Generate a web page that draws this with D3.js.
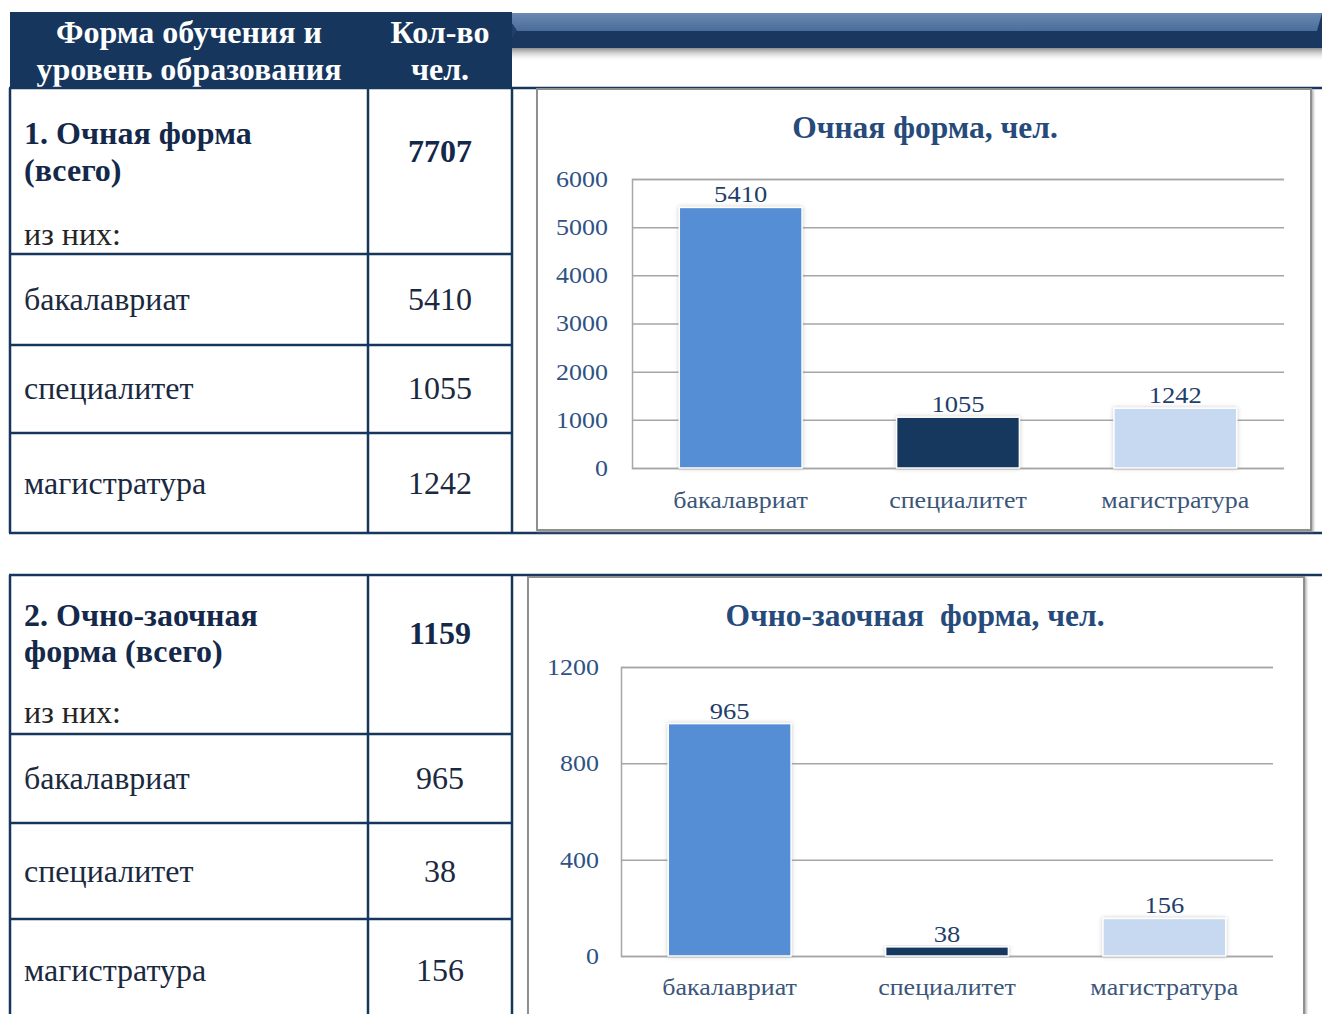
<!DOCTYPE html>
<html><head><meta charset="utf-8">
<script src="https://cdn.jsdelivr.net/npm/d3@7"></script>
<style>html,body{margin:0;padding:0;background:#fff;overflow:hidden}svg{display:block}</style>
</head><body>
<svg id="c" width="1322" height="1014"></svg>
<script>
// ---- data ----
const categories = ["бакалавриат", "специалитет", "магистратура"];
const fullTimeValues = [5410, 1055, 1242];
const partTimeValues = [965, 38, 156];
const fullTimeTotal = 7707;
const partTimeTotal = 1159;
const fullTimeTicks = [0, 1000, 2000, 3000, 4000, 5000, 6000];
const partTimeTicks = [0, 400, 800, 1200];
const headerLeft = ["Форма обучения и", "уровень образования"];
const headerRight = ["Кол-во", "чел."];
const fullTimeHeading = ["1. Очная форма", "(всего)"];
const partTimeHeading = ["2. Очно-заочная", "форма (всего)"];
const ofThem = "из них:";
const fullTimeTitle = "Очная форма, чел.";
const partTimeTitle = "Очно-заочная  форма, чел.";
const barColors = ["#558ed5", "#17375e", "#c6d9f1"];

const svg = d3.select("#c");
const NAVY = "#17365d";
const SERIF = "'Liberation Serif','Times New Roman',serif";
const defs = svg.append("defs");

// horizontal glyph stretch around the text's anchor x
function stretch(sel, k) {
  sel.each(function() {
    const ax = +(this.getAttribute("x") || 0);
    d3.select(this).attr("transform", `translate(${ax},0) scale(${k},1) translate(${-ax},0)`);
  });
}

// gradients
const g1 = defs.append("linearGradient").attr("id","bevel").attr("x1",0).attr("y1",0).attr("x2",0).attr("y2",1);
g1.append("stop").attr("offset","0%").attr("stop-color","#6a89b2");
g1.append("stop").attr("offset","100%").attr("stop-color","#4a6d9a");
const g2 = defs.append("linearGradient").attr("id","shade").attr("x1",0).attr("y1",0).attr("x2",0).attr("y2",1);
g2.append("stop").attr("offset","0%").attr("stop-color","#8e8e8e");
g2.append("stop").attr("offset","100%").attr("stop-color","#ffffff").attr("stop-opacity",0);
const f = defs.append("filter").attr("id","barsh").attr("x","-20%").attr("y","-20%").attr("width","140%").attr("height","140%");
f.append("feDropShadow").attr("dx",0).attr("dy",0).attr("stdDeviation",2.2).attr("flood-color","#888").attr("flood-opacity",0.45);
const f2 = defs.append("filter").attr("id","frsh").attr("x","-5%").attr("y","-5%").attr("width","110%").attr("height","110%");
f2.append("feDropShadow").attr("dx",1.5).attr("dy",1.5).attr("stdDeviation",1).attr("flood-color","#777").attr("flood-opacity",0.6);

// ---- banner top right ----
svg.append("rect").attr("x",505).attr("y",13).attr("width",817).attr("height",35).attr("fill","#19375f");
svg.append("polygon").attr("points","505,13 1322,13 1317,31 517,31").attr("fill","url(#bevel)");
svg.append("polygon").attr("points","505,13 517,31 505,48").attr("fill","#223f68");
svg.append("rect").attr("x",505).attr("y",48).attr("width",817).attr("height",14).attr("fill","url(#shade)");

const FS = 32;
// ---- table ----
function table(rows, bottom, withHeader) {
  const g = svg.append("g");
  if (withHeader) {
    g.append("rect").attr("x",10).attr("y",12).attr("width",502).attr("height",77).attr("fill",NAVY);
    headerLeft.forEach((t,i)=> g.append("text").attr("x",189).attr("y",43+i*37).attr("text-anchor","middle")
      .attr("font-family",SERIF).attr("font-weight","bold").attr("font-size",FS).attr("fill","#fff").text(t));
    headerRight.forEach((t,i)=> g.append("text").attr("x",440).attr("y",43+i*37).attr("text-anchor","middle")
      .attr("font-family",SERIF).attr("font-weight","bold").attr("font-size",FS).attr("fill","#fff").text(t));
  }
  const lw = 2.5;
  rows.forEach((y,i) => g.append("line").attr("x1",9).attr("x2",(i === 0 || y === bottom) ? 1322 : 513)
      .attr("y1",y).attr("y2",y).attr("stroke",NAVY).attr("stroke-width",lw));
  [10, 368, 512].forEach(x => g.append("line").attr("x1",x).attr("x2",x).attr("y1",rows[0]).attr("y2",bottom)
      .attr("stroke",NAVY).attr("stroke-width",lw));
  return g;
}

function tableText(g, heading, total, values, base) {
  g.append("text").attr("x",24).attr("y",base.h1).attr("font-family",SERIF).attr("font-weight","bold")
    .attr("font-size",FS).attr("fill","#14284a").text(heading[0]);
  g.append("text").attr("x",24).attr("y",base.h2).attr("font-family",SERIF).attr("font-weight","bold")
    .attr("font-size",FS).attr("fill","#14284a").text(heading[1]);
  g.append("text").attr("x",24).attr("y",base.sub).attr("font-family",SERIF)
    .attr("font-size",FS).attr("fill","#252525").text(ofThem);
  g.append("text").attr("x",440).attr("y",base.tot).attr("text-anchor","middle").attr("font-family",SERIF)
    .attr("font-weight","bold").attr("font-size",FS).attr("fill","#14284a").text(total);
  categories.forEach((c,i)=>{
    g.append("text").attr("x",24).attr("y",base.rows[i]).attr("font-family",SERIF)
      .attr("font-size",FS).attr("fill","#1b2940").text(c);
    g.append("text").attr("x",440).attr("y",base.rows[i]).attr("text-anchor","middle").attr("font-family",SERIF)
      .attr("font-size",FS).attr("fill","#1b2940").text(values[i]);
  });
}

const t1 = table([88, 254, 345, 433, 533], 533, true);
tableText(t1, fullTimeHeading, fullTimeTotal, fullTimeValues, {h1:144, h2:181, sub:245, tot:162, rows:[310,399,494]});
const t2 = table([575, 734, 823, 919], 1016, false);
tableText(t2, partTimeHeading, partTimeTotal, partTimeValues, {h1:626, h2:662, sub:723, tot:644, rows:[789,882,981]});

// ---- charts ----
const K = 1.13; // horizontal stretch of chart text
function chart(cfg) {
  const g = svg.append("g");
  g.append("rect").attr("x",cfg.fx).attr("y",cfg.fy).attr("width",cfg.fw).attr("height",cfg.fh)
    .attr("fill","#fff").attr("stroke","#8f8f8f").attr("stroke-width",2).attr("filter","url(#frsh)");
  g.append("text").attr("x",cfg.tx).attr("y",cfg.ty).attr("text-anchor","middle").attr("font-family",SERIF)
    .attr("font-weight","bold").attr("font-size",31.5).attr("fill","#264b7b")
    .style("white-space","pre").text(cfg.title);
  const x = d3.scaleBand().domain(categories).range([cfg.x0, cfg.x1]).paddingInner(0.435).paddingOuter(0.2175);
  const y = d3.scaleLinear().domain([0, cfg.max]).range([cfg.y0, cfg.y1]);
  // gridlines
  const grid = d3.axisLeft(y).tickValues(cfg.ticks).tickSize(-(cfg.x1 - cfg.x0)).tickFormat("");
  const gg = g.append("g").attr("transform",`translate(${cfg.x0},0)`).call(grid);
  gg.select(".domain").attr("stroke","#a6a6a6").attr("stroke-width",1.5);
  gg.selectAll(".tick line").attr("stroke","#a6a6a6").attr("stroke-width",1.5);
  // tick labels
  const ax = d3.axisLeft(y).tickValues(cfg.ticks).tickSize(0).tickPadding(cfg.x0 - cfg.lx).tickFormat(d3.format("d"));
  const ag = g.append("g").attr("transform",`translate(${cfg.x0},0)`).call(ax);
  ag.select(".domain").remove();
  ag.selectAll("text").attr("font-family",SERIF).attr("font-size",23).attr("fill","#2e5284").call(stretch, K);
  // bars
  g.selectAll("rect.bar").data(cfg.values).join("rect").attr("class","bar")
    .attr("x",(d,i)=>x(categories[i])).attr("width",x.bandwidth())
    .attr("y",d=>y(d)).attr("height",d=>cfg.y0 - y(d))
    .attr("fill",(d,i)=>barColors[i]).attr("stroke","#fff").attr("stroke-width",1.5)
    .attr("filter","url(#barsh)");
  // value labels
  g.selectAll("text.val").data(cfg.values).join("text").attr("class","val")
    .attr("x",(d,i)=>x(categories[i]) + x.bandwidth()/2).attr("y",d=>y(d) - 5)
    .attr("text-anchor","middle").attr("font-family",SERIF).attr("font-size",23.5).attr("fill","#1f3f6a")
    .text(d=>d).call(stretch, K);
  // category labels
  const bx = d3.axisBottom(x).tickSize(0).tickPadding(0);
  const bg = g.append("g").attr("transform",`translate(0,${cfg.y0})`).call(bx);
  bg.select(".domain").remove();
  bg.selectAll("text").attr("dy",null).attr("y",cfg.cy - cfg.y0).attr("font-family",SERIF).attr("font-size",23)
    .attr("fill","#3b5679").call(stretch, K);
  return g;
}

chart({fx:537, fy:89, fw:774, fh:441, title:fullTimeTitle, tx:925, ty:138,
  x0:632, x1:1284, y0:468, y1:179, max:6000, ticks:fullTimeTicks, lx:608, values:fullTimeValues, cy:508});
chart({fx:528, fy:577, fw:776, fh:450, title:partTimeTitle, tx:915, ty:626,
  x0:621, x1:1273, y0:956, y1:667, max:1200, ticks:partTimeTicks, lx:599, values:partTimeValues, cy:995});
</script>
</body></html>
